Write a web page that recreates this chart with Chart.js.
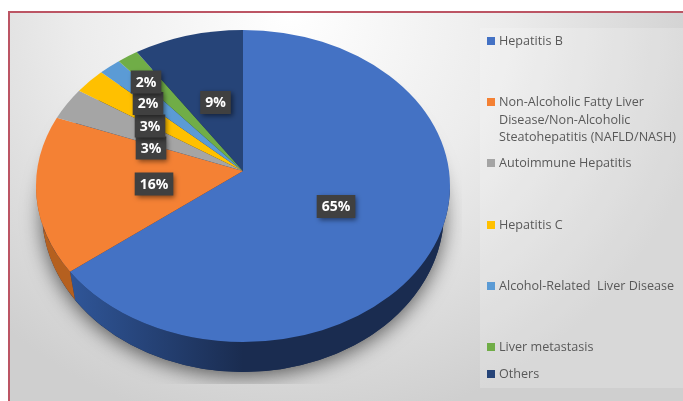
<!DOCTYPE html>
<html>
<head>
<meta charset="utf-8">
<script src="https://cdn.jsdelivr.net/npm/chart.js@4"></script>
<style>
  html, body { margin: 0; padding: 0; background: #fff; overflow: hidden; }
  #frame {
    position: absolute; left: 8px; top: 11px; width: 675px; height: 390px;
    border-top: 2px solid #bc5564; border-left: 2px solid #bc5564; box-sizing: border-box;
    background: radial-gradient(ellipse 430px 420px at 280px 0px, #ffffff 0%, #ececec 50%, #cfcfcf 100%);
  }
  #legendPanel {
    position: absolute; left: 480px; top: 28px; width: 203px; height: 360px;
    background: rgba(255, 255, 255, 0.2);
  }
  canvas { position: absolute; left: 0; top: 0; }
  .item {
    position: absolute; left: 499px; font: 12.6px/17.5px "Open Sans", sans-serif; color: #595959;
    white-space: pre;
  }
  .item i { position: absolute; left: -12px; top: 5px; width: 8px; height: 8px; }
</style>
</head>
<body>
<div id="frame"></div>
<div id="legendPanel"></div>
<canvas id="liverChart" width="683" height="401"></canvas>
<div id="legend"></div>
<script>
const categories = ['Hepatitis B', 'Non-Alcoholic Fatty Liver\nDisease/Non-Alcoholic\nSteatohepatitis (NAFLD/NASH)',
  'Autoimmune Hepatitis', 'Hepatitis C', 'Alcohol-Related  Liver Disease', 'Liver metastasis', 'Others'];
const shares = [64.5, 16.3, 3.4, 2.7, 1.9, 1.8, 9.4];
const colors = ['#4472c4', '#f48134', '#a5a5a5', '#ffc000', '#5b9bd5', '#70ad47', '#264478'];

// legend rows and the hand-moved data labels (offset from the pie apex, in px)
const legendTops = [32, 93, 154, 216, 277, 338, 365];
const labelOffsets = [[93, 35.5], [-89, 13], [-92, -23], [-93, -45], [-95, -67.5], [-97, -89], [-27.5, -68.5]];

// the disc is tilted in perspective, so its apex sits above the ellipse centre
const squash = 156 / 207;
const tilt = 15 / 156;

categories.forEach(function(name, i) {
    const row = document.createElement('div');
    row.className = 'item';
    row.style.top = legendTops[i] + 'px';
    row.textContent = name;
    const mark = document.createElement('i');
    mark.style.background = colors[i];
    row.appendChild(mark);
    document.getElementById('legend').appendChild(row);
});

// slice angle on the flat pie -> angle on the tilted ellipse
function tiltAngle(a) {
    const x = Math.cos(a), y = Math.sin(a);
    const d = 1 - tilt * y;
    let t = Math.atan2((y - tilt) / d, x * Math.sqrt(1 - tilt * tilt) / d);
    if (t < -Math.PI / 2 - 1e-6) t += Math.PI * 2;
    return t;
}

function endAngle(a) {
    const t = tiltAngle(a);
    return t <= -Math.PI / 2 + 1e-6 ? t + Math.PI * 2 : t;
}

const pie3d = {
    id: 'pie3d',
    beforeDatasetDraw(chart) {
        const ctx = chart.ctx;
        const arcs = chart.getDatasetMeta(0).data;
        const cx = arcs[0].x, cy = arcs[0].y, r = arcs[0].outerRadius;
        const ry = r * squash;
        const apexY = cy - tilt * ry;
        // bottom rim of the disc
        const bx = cx, by = cy + 26, brx = r - 6, bry = ry + 4;

        // soft shadow, cut off by the plot box like the original
        ctx.save();
        ctx.beginPath();
        ctx.rect(10, 13, 452, 371);
        ctx.clip();
        ctx.shadowColor = 'rgba(0,0,0,0.6)';
        ctx.shadowBlur = 20;
        ctx.shadowOffsetY = 4;
        ctx.fillStyle = '#1a2c50';
        ctx.beginPath();
        ctx.ellipse(bx, by, brx, bry, 0, 0, Math.PI * 2);
        ctx.fill();
        ctx.restore();

        // side wall, only the front half shows
        arcs.forEach(function(arc, i) {
            const start = Math.max(tiltAngle(arc.startAngle), 0);
            const end = Math.min(endAngle(arc.endAngle), Math.PI);
            if (end <= start) return;
            const grad = ctx.createLinearGradient(cx - 170, 0, cx, 0);
            if (i === 0) {
                grad.addColorStop(0, '#2f5597');
                grad.addColorStop(1, '#1a2c50');
            } else {
                grad.addColorStop(0, '#b5601f');
                grad.addColorStop(1, '#b5601f');
            }
            ctx.fillStyle = grad;
            ctx.beginPath();
            ctx.ellipse(cx, cy, r, ry, 0, start, end);
            ctx.ellipse(bx, by, brx, bry, 0, end, start, true);
            ctx.closePath();
            ctx.fill();
        });

        // top face, each wedge from the library's own arc angles
        arcs.forEach(function(arc, i) {
            ctx.fillStyle = colors[i];
            ctx.beginPath();
            ctx.moveTo(cx, apexY);
            ctx.ellipse(cx, cy, r, ry, 0, tiltAngle(arc.startAngle), endAngle(arc.endAngle));
            ctx.closePath();
            ctx.fill();
        });

        return false;
    },
    afterDatasetsDraw(chart) {
        const ctx = chart.ctx;
        const arcs = chart.getDatasetMeta(0).data;
        const cx = arcs[0].x, apexY = arcs[0].y - tilt * arcs[0].outerRadius * squash;
        ctx.save();
        ctx.font = 'bold 14px "Open Sans", sans-serif';
        ctx.textAlign = 'center';
        ctx.textBaseline = 'middle';
        shares.forEach(function(v, i) {
            const text = Math.round(v) + '%';
            const x = cx + labelOffsets[i][0], y = apexY + labelOffsets[i][1];
            const w = ctx.measureText(text).width + 10, h = 23;
            ctx.save();
            ctx.shadowColor = 'rgba(0,0,0,0.5)';
            ctx.shadowBlur = 5;
            ctx.shadowOffsetX = 2;
            ctx.shadowOffsetY = 2;
            ctx.fillStyle = '#404040';
            ctx.fillRect(x - w / 2, y - h / 2, w, h);
            ctx.restore();
            ctx.fillStyle = '#ffffff';
            ctx.fillText(text, x, y + 1);
        });
        ctx.restore();
    }
};

new Chart(document.getElementById('liverChart'), {
    type: 'pie',
    data: {
        labels: categories,
        datasets: [{
            data: shares,
            backgroundColor: colors,
            borderWidth: 0,
            radius: 207,
            clip: false
        }]
    },
    options: {
        responsive: false,
        animation: false,
        layout: { padding: { left: 0, top: 0, right: 197, bottom: 29 } },
        plugins: { legend: { display: false }, tooltip: { enabled: false } }
    },
    plugins: [pie3d]
});
</script>
</body>
</html>
